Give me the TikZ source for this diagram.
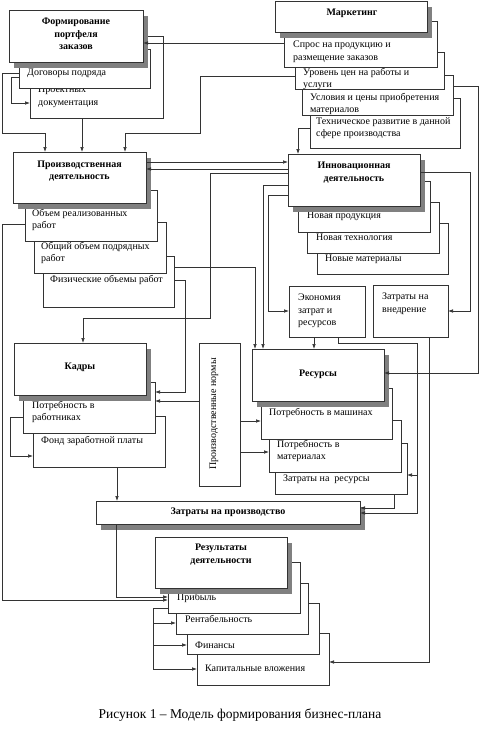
\documentclass[tikz,border=0pt]{standalone}
\usepackage{fontspec}
\setmainfont{Liberation Serif}
\usetikzlibrary{arrows.meta,shadows}
\begin{document}
\begin{tikzpicture}[x=1pt,y=-1pt,
  bx/.style={draw=black!80, line width=0.7pt, fill=white, inner sep=0pt, outer sep=0pt, anchor=north west, minimum width=132pt, minimum height=51pt},
  shadowed/.style={drop shadow={shadow xshift=5pt, shadow yshift=-6pt, fill=black!50, opacity=1}},
  txt/.style={inner sep=0pt, anchor=north west, align=left, yshift=-2pt, font=\fontsize{10}{12.5}\selectfont},
  ttl/.style={inner sep=0pt, align=center, font=\bfseries\fontsize{10}{12.5}\selectfont},
  ln/.style={draw=black!80, line width=0.7pt},
  arr/.style={ln, -{Latex[length=5pt,width=3.6pt]}}
]
\useasboundingbox (0,0) rectangle (479,752);
\fill[white] (0,0) rectangle (479,752);

% Формирование
\node[bx, minimum width=133pt, minimum height=82pt] (proj) at (30,36) {};
\node[txt] (projT) at (38,84) {Проектных\\документация};
\node[bx, minimum width=131pt, minimum height=39pt] (dog) at (19,49) {};
\node[txt] (dogT) at (27,67) {Договоры подряда};
\node[bx, shadowed, minimum width=134pt, minimum height=52pt] (form) at (9,10) {};
\node[ttl, anchor=north] (formT) at ([yshift=-8pt]form.north) {Формирование\\портфеля\\заказов};

% Маркетинг
\node[bx, minimum width=150pt, minimum height=50pt] (tech) at (310,98) {};
\node[txt] (techT) at (316,115) {Техническое развитие в данной\\сфере производства};
\node[bx, minimum width=151pt, minimum height=40pt] (uslov) at (302,75) {};
\node[txt] (uslovT) at (310,91) {Условия и цены приобретения\\материалов};
\node[bx, minimum width=149pt, minimum height=37pt] (uroven) at (295,52) {};
\node[txt] (urovenT) at (303,66) {Уровень цен на работы и\\услуги};
\node[bx, minimum width=153pt, minimum height=46pt] (spros) at (284,21) {};
\node[txt] (sprosT) at (293,39) {Спрос на продукцию и\\размещение заказов};
\node[bx, shadowed, minimum width=152pt, minimum height=31pt] (mark) at (275,1) {};
\node[ttl] (markT) at (352,13) {Маркетинг};

% Производственная
\node[bx, minimum width=131pt] (fiz) at (43,256) {};
\node[txt] (fizT) at (50,273) {Физические объемы работ};
\node[bx] (obsh) at (34,222) {};
\node[txt] (obshT) at (41,240) {Общий объем подрядных\\работ};
\node[bx] (obem) at (25,190) {};
\node[txt] (obemT) at (32,207) {Объем реализованных\\работ};
\node[bx, shadowed, minimum width=133pt] (prod) at (13,152) {};
\node[ttl, anchor=north] (prodT) at ([yshift=-8.5pt]prod.north) {Производственная\\деятельность};

% Инновационная
\node[bx, minimum width=131pt] (nm) at (317,223) {};
\node[txt] (nmT) at (325,253) {Новые материалы};
\node[bx] (nt) at (307,202) {};
\node[txt] (ntT) at (316,232) {Новая технология};
\node[bx] (np) at (298,181) {};
\node[txt] (npT) at (307,210) {Новая продукция};
\node[bx, shadowed, minimum height=52pt] (innov) at (288,154) {};
\node[ttl, anchor=north] (innovT) at ([yshift=-8pt]innov.north) {Инновационная\\деятельность};
\node[bx, minimum width=76pt] (econ) at (289,286) {};
\node[txt] (econT) at (298,292) {Экономия\\затрат и\\ресурсов};
\node[bx, minimum width=75pt, minimum height=52pt] (vnedr) at (373,285) {};
\node[txt] (vnedrT) at (382,291) {Затраты на\\внедрение};

% Кадры
\node[bx] (fond) at (33,416) {};
\node[txt] (fondT) at (41,434) {Фонд заработной платы};
\node[bx] (potrR) at (23,382) {};
\node[txt] (potrRT) at (32,399) {Потребность в\\работниках};
\node[bx, shadowed, minimum height=52pt] (kadry) at (14,343) {};
\node[ttl] (kadryT) at (80,367) {Кадры};
\node[bx, minimum width=41pt, minimum height=143pt] (normy) at (199,343) {};
\node[rotate=90, inner sep=0pt, font=\fontsize{10}{12}\selectfont] (normyT) at (214,414) {Производственные нормы};

% Ресурсы
\node[bx] (zres) at (275,443) {};
\node[txt] (zresT) at (283,473) {Затраты на\ \ ресурсы};
\node[bx, minimum height=52pt] (pmat) at (269,420) {};
\node[txt] (pmatT) at (277,438) {Потребность в\\материалах};
\node[bx, minimum width=131pt] (pm) at (261,388) {};
\node[txt] (pmT) at (269,406) {Потребность в машинах};
\node[bx, shadowed, minimum height=52pt] (res) at (252,349) {};
\node[ttl] (resT) at (318,374) {Ресурсы};

% Затраты на производство
\node[bx, shadowed, minimum width=264pt, minimum height=23pt] (zatr) at (96,501) {};
\node[ttl] (zatrT) at (228,512.5) {Затраты на производство};

% Результаты
\node[bx, minimum height=52pt] (kap) at (197,633) {};
\node[txt] (kapT) at (205,663) {Капитальные вложения};
\node[bx] (fin) at (187,603) {};
\node[txt] (finT) at (195,640) {Финансы};
\node[bx] (rent) at (176,583) {};
\node[txt] (rentT) at (185,613) {Рентабельность};
\node[bx] (prib) at (168,562) {};
\node[txt] (pribT) at (177,591) {Прибыль};
\node[bx, shadowed] (result) at (155,537) {};
\node[ttl, anchor=north] (resultT) at ([yshift=-7pt]result.north) {Результаты\\деятельности};

% caption
\node[inner sep=0pt, font=\fontsize{13.5}{16}\selectfont] (cap) at (240,715) {Рисунок 1 – Модель формирования бизнес-плана};

% connectors
\draw[arr] (spros.west |- 0,43) -- (form.east |- 0,43);
\draw[arr] (uroven.west |- 0,76) -| (200,133) -| (prod.north -| 125,0);
\draw[arr] (dog.west |- 0,73) -| (2,133) -| (prod.north -| 45,0);
\draw[arr] (dog.west |- 0,77) -| (11,103) -- (proj.west |- 0,103);
\draw[arr] (proj.south -| 82,0) -- (prod.north -| 82,0);
\draw[arr] (tech.west |- 0,128) -| (innov.north -| 298,0);
\draw[arr] (prod.east |- 0,162) -- (innov.west |- 0,162);
\draw[arr] (innov.west |- 0,169) -- (prod.east |- 0,169);
\draw[arr] (innov.west |- 0,173) -| (210,318) -| (kadry.north -| 83,0);
\draw[arr] (innov.west |- 0,185) -| (res.north -| 263,0);
\draw[arr] (innov.west |- 0,195) -| (268,311) -- (econ.west |- 0,311);
\draw[arr] (innov.east |- 0,172) -| (470,311) -- (vnedr.east |- 0,311);
\draw[arr] (uslov.east |- 0,86) -| (478,373) -- (res.east |- 0,373);
\draw[arr] (fiz.east |- 0,267) -| (res.north -| 255,0);
\draw[arr] (fiz.east |- 0,280) -| (185,392) -- (potrR.east |- 0,392);
\draw[arr] (normy.west |- 0,401) -- (potrR.east |- 0,401);
\draw[arr] (normy.east |- 0,421) -- (pm.west |- 0,421);
\draw[arr] (normy.east |- 0,452) -- (pmat.west |- 0,452);
\draw[arr] (potrR.west |- 0,417) -| (10,456) -- (fond.west |- 0,456);
\draw[arr] (fond.south -| 117,0) -- (zatr.north -| 117,0);
\draw[arr] (obem.west |- 0,224) -| (2,600) -- (prib.west |- 0,600);
\draw[arr] (zatr.south -| 116,0) |- (prib.west |- 0,597);
\draw[arr] (econ.south -| 314,0) -- (res.north -| 314,0);
\draw[arr] (econ.south -| 338,0) |- (417,343) |- (zatr.east |- 0,513);
\coordinate (brA) at (417,475);
\draw[arr] (brA) -- (zres.east |- brA);
\draw[arr] (zres.south -| 394,0) |- (zatr.east |- 0,508);
\draw[arr] (vnedr.south -| 429,0) |- (kap.east |- 0,662);
\draw[arr] (prib.west |- 0,608) -| (153,669) -- (kap.west |- 0,669);
\coordinate (brB) at (153,623);
\draw[arr] (brB) -- (rent.west |- brB);
\coordinate (brC) at (153,645);
\draw[arr] (brC) -- (fin.west |- brC);
\end{tikzpicture}
\end{document}
